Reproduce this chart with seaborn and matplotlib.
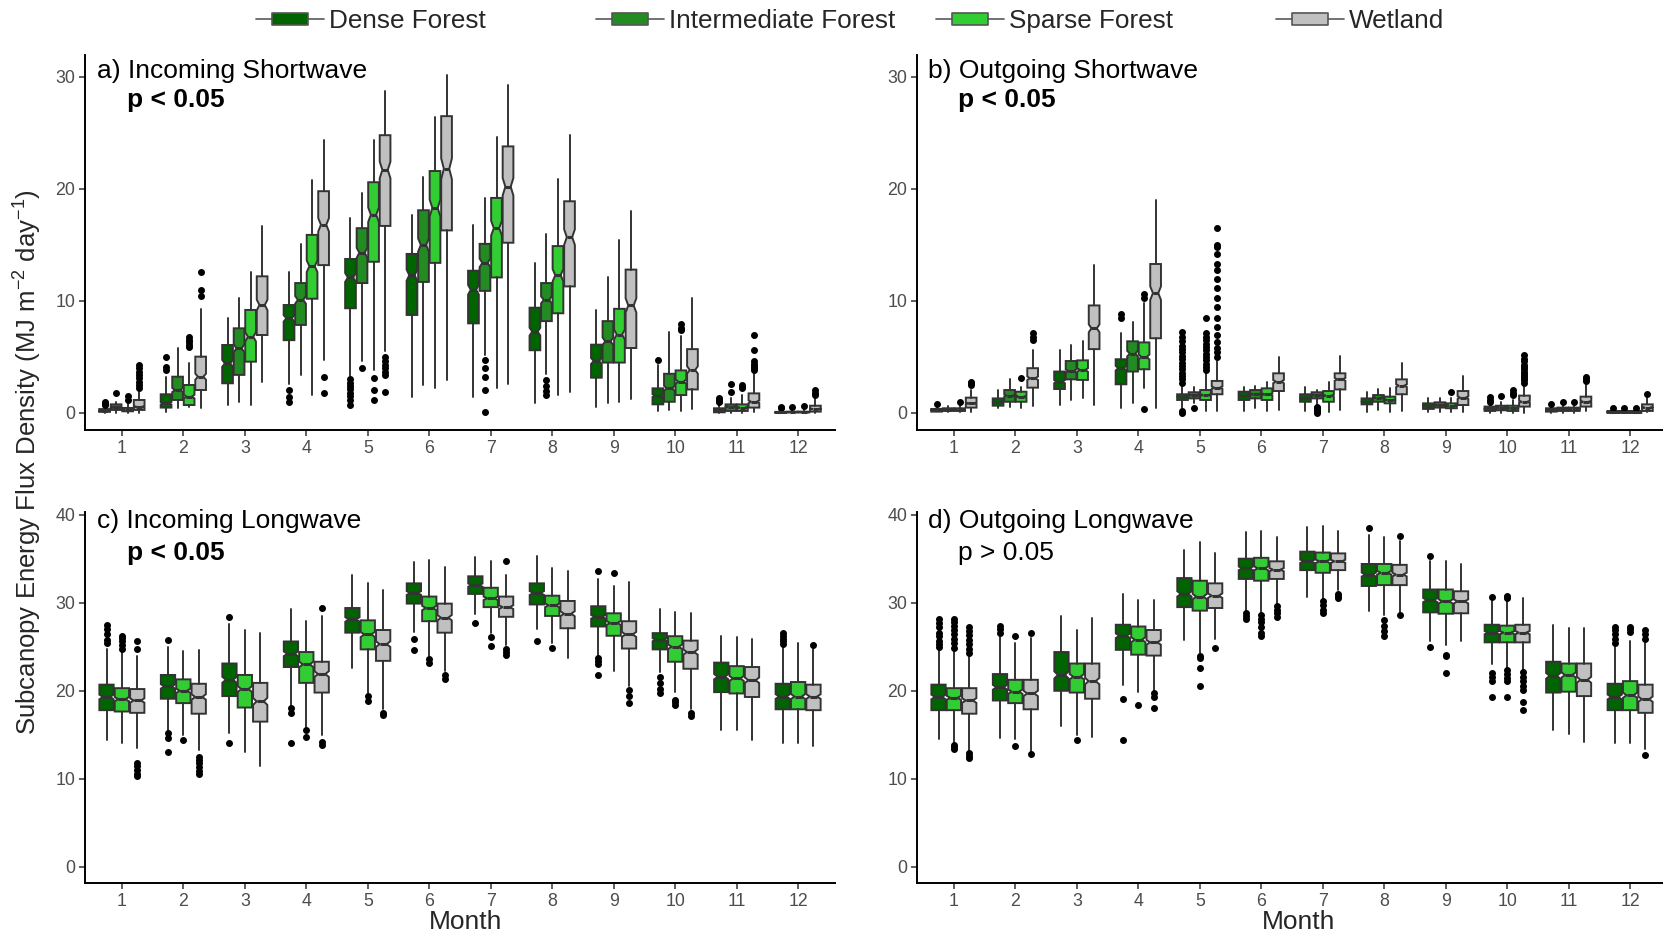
import numpy as np
import matplotlib
matplotlib.use("Agg")
import matplotlib.pyplot as plt
import seaborn as sns
from matplotlib.lines import Line2D
from matplotlib.path import Path

# ---- data: (whisker low, Q1, median, Q3, whisker high) per month ----
MONTHS = list(range(1, 13))
GROUPS = ["Dense Forest", "Intermediate Forest", "Sparse Forest", "Wetland"]
COLORS = ["#006400", "#228B22", "#32CD32", "#C0C0C0"]
N_DAYS = 300  # observations per box, used for the notch width

# a) Incoming shortwave
isw_dense = [(0.0, 0.1, 0.2, 0.35, 0.6), (0.1, 0.48, 0.86, 1.67, 3.2), (0.71, 2.65, 4.43, 6.07, 8.45),
             (2.6, 6.5, 8.45, 9.64, 12.6), (3.3, 9.35, 12.1, 13.75, 17.4), (1.46, 8.75, 12.3, 14.2, 17.7),
             (1.46, 8.0, 11.0, 12.7, 16.8), (0.9, 5.6, 7.26, 9.4, 13.4), (0.57, 3.15, 4.64, 6.1, 9.2),
             (0.18, 0.77, 1.55, 2.2, 4.3), (0.0, 0.06, 0.24, 0.42, 0.86), (0.0, 0.0, 0.05, 0.1, 0.25)]
isw_dense_out = [[0.7, 0.8, 0.9, 1.0], [3.8, 4.1, 5.0], [], [1.0, 1.46, 2.05],
                 [0.7, 1.2, 1.5, 1.8, 2.1, 2.4, 2.7, 3.0], [], [], [], [], [4.7], [1.0, 1.1, 1.2, 1.3], [0.4, 0.5]]
isw_inter = [(0.0, 0.27, 0.5, 0.77, 1.0), (0.4, 1.16, 2.05, 3.24, 5.8), (1.0, 3.4, 5.77, 7.56, 10.3),
             (3.4, 7.86, 10.1, 11.6, 15.1), (4.6, 11.6, 14.3, 16.5, 19.6), (2.5, 11.7, 15.0, 18.1, 21.1),
             (5.2, 10.9, 13.4, 15.1, 19.2), (3.5, 8.2, 10.1, 11.6, 16.0), (0.86, 4.5, 6.4, 8.2, 12.1),
             (0.27, 1.0, 2.2, 3.5, 7.26), (0.0, 0.18, 0.56, 0.77, 1.3), (0.0, 0.05, 0.08, 0.12, 0.35)]
isw_inter_out = [[1.8], [], [], [], [4.0], [], [0.1, 2.05, 3.2, 4.0, 4.7], [1.6, 2.0, 2.4, 2.9],
                 [], [], [1.9, 2.6], [0.57]]
isw_sparse = [(0.0, 0.15, 0.3, 0.45, 0.9), (0.57, 0.71, 1.46, 2.5, 4.5), (0.7, 4.58, 6.8, 9.2, 12.6),
              (1.6, 10.2, 13.1, 15.9, 20.8), (3.8, 13.5, 17.7, 20.6, 24.4), (2.2, 13.4, 18.3, 21.6, 26.4),
              (2.2, 12.1, 16.5, 19.2, 24.6), (1.6, 8.9, 12.3, 14.9, 20.9), (1.0, 4.5, 7.0, 9.3, 15.4),
              (0.18, 1.6, 2.8, 3.8, 6.9), (0.0, 0.18, 0.48, 0.77, 1.6), (0.0, 0.05, 0.08, 0.12, 0.35)]
isw_sparse_out = [[1.2, 1.5], [5.9, 6.1, 6.3, 6.5, 6.8], [], [], [1.16, 2.05, 3.1], [], [], [], [],
                  [7.4, 7.6, 7.9], [2.2, 2.35, 2.5], [0.65]]
isw_wet = [(0.0, 0.27, 0.55, 1.16, 1.9), (0.42, 2.05, 3.24, 5.03, 9.3), (2.8, 6.96, 9.64, 12.2, 16.7),
           (4.7, 13.2, 16.8, 19.8, 24.4), (5.5, 16.7, 21.7, 24.8, 28.75), (2.9, 16.3, 21.8, 26.5, 30.2),
           (2.56, 15.2, 20.2, 23.8, 29.3), (1.9, 11.3, 15.7, 18.9, 24.8), (1.25, 5.8, 9.6, 12.8, 18.0),
           (0.36, 2.1, 3.84, 5.7, 10.3), (0.06, 0.48, 1.0, 1.75, 3.5), (0.0, 0.12, 0.36, 0.65, 1.3)]
isw_wet_out = [[2.2, 2.5, 2.8, 3.1, 3.4, 3.7, 4.0, 4.3], [10.4, 11.0, 12.6], [], [1.8, 3.2],
               [1.9, 3.4, 3.7, 4.0, 4.3, 4.6, 5.0], [], [], [], [], [],
               [3.8, 4.0, 4.2, 4.4, 4.6, 5.6, 7.0], [1.6, 1.8, 2.05]]

# b) Outgoing shortwave
osw_dense = [(0.05, 0.12, 0.25, 0.36, 0.5), (0.42, 0.65, 1.0, 1.3, 2.05), (0.71, 2.14, 2.8, 3.7, 5.6),
             (0.42, 2.56, 4.0, 4.8, 7.1), (0.42, 1.16, 1.46, 1.67, 2.4), (0.18, 1.16, 1.55, 1.9, 2.35),
             (0.18, 1.0, 1.3, 1.67, 2.35), (0.12, 0.77, 1.0, 1.3, 1.85), (0.06, 0.36, 0.65, 0.86, 1.3),
             (0.0, 0.18, 0.36, 0.57, 0.86), (0.0, 0.12, 0.27, 0.42, 0.57), (0.0, 0.0, 0.1, 0.18, 0.3)]
osw_dense_out = [[0.77], [], [], [8.45, 8.8],
                 [0.0, 0.2, 2.7, 3.0, 3.3, 3.6, 3.9, 4.2, 4.5, 4.8, 5.1, 5.4, 5.7, 6.0, 6.4, 6.8, 7.2],
                 [], [], [], [], [1.0, 1.2, 1.46], [0.77], [0.42]]
osw_inter = [(0.1, 0.18, 0.3, 0.42, 0.6), (0.57, 1.0, 1.55, 2.05, 3.0), (1.16, 3.0, 3.75, 4.64, 6.1),
             (0.86, 3.7, 5.3, 6.4, 8.15), (0.9, 1.3, 1.6, 1.85, 2.35), (0.4, 1.3, 1.67, 2.05, 2.4),
             (0.8, 1.3, 1.6, 1.85, 2.05), (0.27, 1.0, 1.37, 1.6, 2.14), (0.1, 0.48, 0.71, 0.95, 1.37),
             (0.0, 0.24, 0.48, 0.65, 1.0), (0.0, 0.18, 0.36, 0.48, 0.71), (0.0, 0.0, 0.1, 0.18, 0.3)]
osw_inter_out = [[], [], [], [], [0.42], [], [0.0, 0.15, 0.3, 0.45, 0.57], [], [], [1.55], [1.0], [0.48]]
osw_sparse = [(0.1, 0.18, 0.3, 0.42, 0.6), (0.42, 1.0, 1.46, 1.9, 2.35), (1.3, 2.95, 3.84, 4.7, 6.4),
              (2.2, 3.9, 5.0, 6.3, 9.8), (0.18, 1.16, 1.6, 2.05, 3.7), (0.2, 1.16, 1.67, 2.2, 2.8),
              (0.06, 1.0, 1.55, 1.96, 2.8), (0.06, 0.86, 1.16, 1.46, 2.2), (0.06, 0.42, 0.65, 0.86, 1.3),
              (0.0, 0.18, 0.42, 0.65, 1.16), (0.0, 0.18, 0.36, 0.48, 0.71), (0.0, 0.0, 0.1, 0.18, 0.3)]
osw_sparse_out = [[1.0], [3.15], [], [0.36, 10.3, 10.6],
                  [3.8, 4.1, 4.4, 4.7, 5.0, 5.3, 5.6, 5.9, 6.2, 6.5, 6.8, 7.1, 8.45],
                  [], [], [], [1.85], [1.6, 1.8, 2.05], [1.0], [0.48]]
osw_wet = [(0.12, 0.48, 0.86, 1.37, 2.05), (0.65, 2.26, 3.1, 4.0, 5.6), (0.71, 5.7, 7.56, 9.6, 13.2),
           (0.42, 6.67, 10.7, 13.3, 19.0), (0.18, 1.67, 2.26, 2.86, 4.6), (0.27, 1.96, 2.8, 3.54, 5.0),
           (0.27, 2.1, 3.0, 3.54, 5.1), (0.18, 1.67, 2.44, 3.0, 4.43), (0.06, 0.71, 1.37, 1.96, 3.33),
           (0.0, 0.57, 1.0, 1.55, 2.5), (0.18, 0.57, 1.0, 1.46, 2.5), (0.06, 0.18, 0.48, 0.77, 1.3)]
osw_wet_out = [[2.5, 2.65, 2.8], [6.5, 6.8, 7.1], [], [],
               [5.0, 5.4, 5.8, 6.3, 7.0, 7.7, 8.5, 9.5, 10.3, 11.2, 12.0, 12.8, 13.3, 14.2, 14.8, 15.0, 16.5],
               [], [], [], [], [2.7, 2.9, 3.1, 3.3, 3.5, 3.7, 3.9, 4.1, 4.3, 4.6, 4.8, 5.2],
               [2.86, 3.0, 3.2], [1.67]]

# c) Incoming longwave (no intermediate forest)
ilw_dense = [(14.4, 17.8, 19.3, 20.7, 24.7), (15.6, 19.1, 20.5, 21.8, 25.0), (15.2, 19.4, 21.25, 23.1, 27.6),
             (18.4, 22.7, 24.2, 25.6, 29.3), (22.6, 26.6, 28.1, 29.4, 33.1), (26.7, 29.9, 31.1, 32.2, 34.6),
             (28.75, 31.0, 32.0, 33.0, 35.2), (27.0, 29.8, 31.1, 32.2, 35.3), (24.0, 27.3, 28.4, 29.6, 32.7),
             (22.1, 24.7, 25.8, 26.55, 29.3), (15.6, 19.85, 21.6, 23.2, 26.25), (14.05, 17.9, 19.35, 20.8, 25.0)]
ilw_dense_out = [[25.4, 25.8, 26.5, 27.0, 27.5], [13.0, 14.6, 15.2, 25.8], [14.1, 28.4], [14.1, 17.5, 18.0],
                 [], [24.6, 25.9], [27.7], [25.7], [21.8, 23.0, 23.4, 23.7, 33.6], [19.7, 20.2, 20.9, 21.6],
                 [], [25.3, 25.6, 25.9, 26.2, 26.6]]
ilw_sparse = [(14.1, 17.65, 19.05, 20.3, 24.5), (15.0, 18.6, 20.0, 21.3, 24.5), (13.1, 18.1, 20.2, 21.8, 26.9),
              (15.9, 20.9, 23.0, 24.4, 27.9), (19.8, 24.7, 26.4, 28.0, 32.2), (23.9, 27.9, 29.4, 30.7, 34.9),
              (26.55, 29.5, 30.5, 31.7, 34.7), (25.4, 28.5, 29.7, 30.8, 33.9), (22.3, 26.25, 27.7, 28.8, 31.9),
              (19.9, 23.3, 25.0, 26.2, 29.0), (15.6, 19.7, 21.4, 22.8, 26.1), (14.1, 17.9, 19.35, 21.0, 25.4)]
ilw_sparse_out = [[24.8, 25.2, 25.6, 26.0, 26.2], [14.4], [], [14.8, 15.6], [18.8, 19.4], [23.2, 23.6],
                  [25.1, 26.1], [24.9], [33.4], [18.4, 18.7, 19.0], [], []]
ilw_wet = [(13.5, 17.5, 18.9, 20.2, 23.9), (13.3, 17.4, 19.3, 20.8, 24.6), (11.5, 16.5, 18.8, 20.9, 26.6),
           (15.0, 19.8, 21.9, 23.3, 28.5), (17.9, 23.4, 25.3, 26.9, 31.4), (22.3, 26.6, 28.3, 29.9, 34.1),
           (25.2, 28.4, 29.5, 30.7, 33.2), (23.7, 27.1, 28.75, 30.2, 33.6), (20.5, 24.8, 26.4, 27.9, 32.3),
           (17.9, 22.5, 24.4, 25.7, 28.8), (14.4, 19.3, 21.2, 22.7, 25.9), (13.75, 17.8, 19.35, 20.7, 24.8)]
ilw_wet_out = [[10.3, 10.6, 11.0, 11.5, 11.8, 24.7, 25.6], [10.5, 10.9, 11.3, 11.8, 12.2, 12.5], [],
               [13.9, 14.2, 29.4], [17.3, 17.5], [21.3, 21.8], [24.1, 24.4, 24.7, 34.7], [],
               [18.6, 19.4, 20.1], [17.1, 17.5], [], [25.2]]

# d) Outgoing longwave (no intermediate forest)
olw_dense = [(14.5, 17.8, 19.3, 20.7, 24.7), (14.6, 18.9, 20.4, 21.9, 26.4), (15.95, 20.0, 21.8, 24.4, 28.5),
             (20.7, 24.65, 26.25, 27.5, 31.0), (25.8, 29.5, 31.0, 32.8, 36.0), (29.2, 32.7, 33.9, 35.0, 38.0),
             (30.7, 33.7, 34.7, 35.8, 38.6), (29.1, 31.9, 33.2, 34.4, 37.7), (25.6, 28.9, 30.3, 31.5, 34.7),
             (23.0, 25.5, 26.6, 27.5, 30.5), (15.6, 19.8, 21.7, 23.3, 27.5), (14.1, 17.8, 19.3, 20.8, 25.0)]
olw_dense_out = [[25.0, 25.3, 25.7, 26.2, 26.6, 27.2, 27.7, 28.1], [26.6, 27.0, 27.4], [], [14.4, 19.1], [],
                 [28.1, 28.5, 28.8], [], [38.5], [25.0, 35.3], [19.35, 21.1, 21.6, 22.0, 30.7], [],
                 [25.4, 25.9, 26.4, 26.9, 27.3]]
olw_sparse = [(14.05, 17.8, 19.2, 20.3, 24.5), (14.5, 18.6, 19.9, 21.25, 25.4), (15.0, 19.8, 21.6, 23.1, 26.9),
              (19.9, 24.1, 25.8, 27.3, 30.3), (24.3, 29.1, 30.7, 32.5, 36.9), (28.9, 32.5, 33.9, 35.1, 38.1),
              (30.4, 33.4, 34.7, 35.7, 38.75), (28.6, 32.0, 33.4, 34.4, 37.5), (25.2, 28.75, 30.15, 31.5, 34.7),
              (22.6, 25.5, 26.6, 27.4, 30.3), (15.1, 19.9, 21.8, 23.1, 27.1), (14.1, 17.8, 19.5, 21.1, 25.7)]
olw_sparse_out = [[13.4, 13.6, 13.9, 24.9, 25.4, 25.9, 26.4, 26.9, 27.4, 27.8, 28.1], [13.75, 26.25], [14.4],
                  [18.4], [20.5, 22.6, 23.7, 24.0], [26.2, 26.6, 27.3, 27.8, 28.2, 28.6],
                  [28.8, 29.2, 29.7, 30.15], [26.2, 26.8, 27.4, 28.0], [22.0, 23.9, 24.1],
                  [19.35, 21.1, 21.5, 21.9, 22.4, 30.5, 30.8], [], [26.7, 27.0, 27.3]]
olw_wet = [(13.1, 17.4, 18.9, 20.3, 23.9), (13.1, 17.9, 19.7, 21.25, 26.0), (14.7, 19.1, 21.1, 23.1, 28.3),
           (20.0, 24.0, 25.5, 26.9, 30.3), (25.9, 29.4, 30.8, 32.2, 35.7), (29.9, 32.7, 33.75, 34.7, 37.5),
           (31.4, 33.7, 34.7, 35.6, 38.1), (29.0, 32.0, 33.2, 34.3, 37.0), (25.7, 28.8, 30.15, 31.3, 34.4),
           (22.3, 25.5, 26.6, 27.5, 30.5), (14.2, 19.4, 21.25, 23.1, 27.1), (13.4, 17.5, 19.05, 20.7, 25.4)]
olw_wet_out = [[12.35, 12.6, 12.9, 24.3, 24.8, 25.3, 25.8, 26.3, 26.8, 27.3], [12.8, 26.55], [],
               [18.0, 19.35, 19.7], [24.85], [28.4, 28.8, 29.2, 29.6], [30.5, 30.8, 31.0], [28.6, 37.6], [],
               [17.8, 18.7, 20.1, 20.6, 21.1, 21.6, 22.1], [], [12.7, 25.9, 26.4, 26.9]]

EDGE = "#333333"


def draw_panel(ax, boxes, fliers, colors):
    k = len(boxes)
    step = 0.75 / k
    offsets = (np.arange(k) - (k - 1) / 2) * step
    for gi in range(k):
        stats = []
        for m, (lo, q1, med, q3, hi) in enumerate(boxes[gi]):
            half = 1.58 * (q3 - q1) / np.sqrt(N_DAYS)
            stats.append(dict(med=med, q1=q1, q3=q3, whislo=lo, whishi=hi,
                              fliers=fliers[gi][m], cilo=med - half, cihi=med + half))
        ax.bxp(stats, positions=np.array(MONTHS) + offsets[gi], widths=step * 0.93,
               shownotches=True, patch_artist=True, showcaps=False, manage_ticks=False,
               boxprops=dict(facecolor=colors[gi], edgecolor=EDGE, linewidth=1.4),
               whiskerprops=dict(color=EDGE, linewidth=1.4),
               medianprops=dict(color=EDGE, linewidth=2.2),
               flierprops=dict(marker="o", markerfacecolor="black", markeredgecolor="black",
                               markersize=4.0, linestyle="none"))


sns.set_theme(style="ticks")
plt.rcParams["font.family"] = ["Liberation Sans", "DejaVu Sans"]
plt.rcParams["mathtext.fontset"] = "custom"
plt.rcParams["mathtext.rm"] = "Liberation Sans"
plt.rcParams["mathtext.it"] = "Liberation Sans:italic"
plt.rcParams["mathtext.bf"] = "Liberation Sans:bold"
plt.rcParams["mathtext.default"] = "regular"

W, H = 1663, 935
fig = plt.figure(figsize=(W / 100, H / 100), dpi=100)


def add_ax(left, top, right, bottom):
    return fig.add_axes([left / W, 1 - bottom / H, (right - left) / W, (bottom - top) / H])


panels = [
    (add_ax(85, 55, 835, 430), [isw_dense, isw_inter, isw_sparse, isw_wet],
     [isw_dense_out, isw_inter_out, isw_sparse_out, isw_wet_out], COLORS,
     "a) Incoming Shortwave", "p < 0.05", "bold", (-1.52, 31.96), [0, 10, 20, 30], 0.016),
    (add_ax(917, 55, 1667, 430), [osw_dense, osw_inter, osw_sparse, osw_wet],
     [osw_dense_out, osw_inter_out, osw_sparse_out, osw_wet_out], COLORS,
     "b) Outgoing Shortwave", "p < 0.05", "bold", (-1.52, 31.96), [0, 10, 20, 30], 0.0147),
    (add_ax(85, 512, 835, 883), [ilw_dense, ilw_sparse, ilw_wet],
     [ilw_dense_out, ilw_sparse_out, ilw_wet_out], [COLORS[0], COLORS[2], COLORS[3]],
     "c) Incoming Longwave", "p < 0.05", "bold", (-1.82, 40.3), [0, 10, 20, 30, 40], 0.016),
    (add_ax(917, 512, 1667, 883), [olw_dense, olw_sparse, olw_wet],
     [olw_dense_out, olw_sparse_out, olw_wet_out], [COLORS[0], COLORS[2], COLORS[3]],
     "d) Outgoing Longwave", "p > 0.05", "normal", (-1.82, 40.3), [0, 10, 20, 30, 40], 0.0147),
]

for i, (ax, boxes, outs, cols, title, ptxt, pweight, ylim, yticks, tx) in enumerate(panels):
    draw_panel(ax, boxes, outs, cols)
    ax.set_xlim(0.4, 12.6)
    ax.set_ylim(*ylim)
    ax.set_xticks(MONTHS)
    ax.set_xticklabels([str(m) for m in MONTHS])
    ax.set_yticks(yticks)
    sns.despine(ax=ax)
    for s in ("left", "bottom"):
        ax.spines[s].set_color("black")
        ax.spines[s].set_linewidth(1.4)
    ax.tick_params(direction="out", length=4, width=1.1, color=EDGE,
                   labelcolor="#4D4D4D", labelsize=12.8, pad=3)
    top = i < 2
    ax.text(tx, 0.9387 if top else 0.957, title, transform=ax.transAxes,
            fontsize=19, va="baseline", ha="left", color="black")
    ax.text(tx + 0.04, 0.8613 if top else 0.8706, ptxt, transform=ax.transAxes,
            fontsize=19, fontweight=pweight, va="baseline", ha="left", color="black")

fig.text(28 / W, 1 - 462 / H, r"Subcanopy Energy Flux Density (MJ m$^{-2}$ day$^{-1}$)",
         rotation=90, ha="center", va="center", fontsize=18.5)
fig.text(466 / W, 1 - 922 / H, "Month", ha="center", va="center", fontsize=19)
fig.text(1299 / W, 1 - 922 / H, "Month", ha="center", va="center", fontsize=19)

# legend: one entry per column, evenly spaced like the ggplot legend
rect = Path([(-1, -0.33), (1, -0.33), (1, 0.33), (-1, 0.33), (-1, -0.33)],
            [Path.MOVETO, Path.LINETO, Path.LINETO, Path.LINETO, Path.CLOSEPOLY])
for x0, g, c in zip([256, 596, 936, 1276], GROUPS, COLORS):
    h = Line2D([0], [0], color="#666666", lw=1.3, marker=rect, markersize=26,
               markerfacecolor=c, markeredgecolor="#555555", markeredgewidth=1.2)
    fig.legend(handles=[h], labels=[g], loc="center left", bbox_to_anchor=(x0 / W, 1 - 21 / H),
               frameon=False, fontsize=18.8, handlelength=2.6, handletextpad=0.2,
               borderpad=0, borderaxespad=0)

fig.savefig("out.png", dpi=100)
